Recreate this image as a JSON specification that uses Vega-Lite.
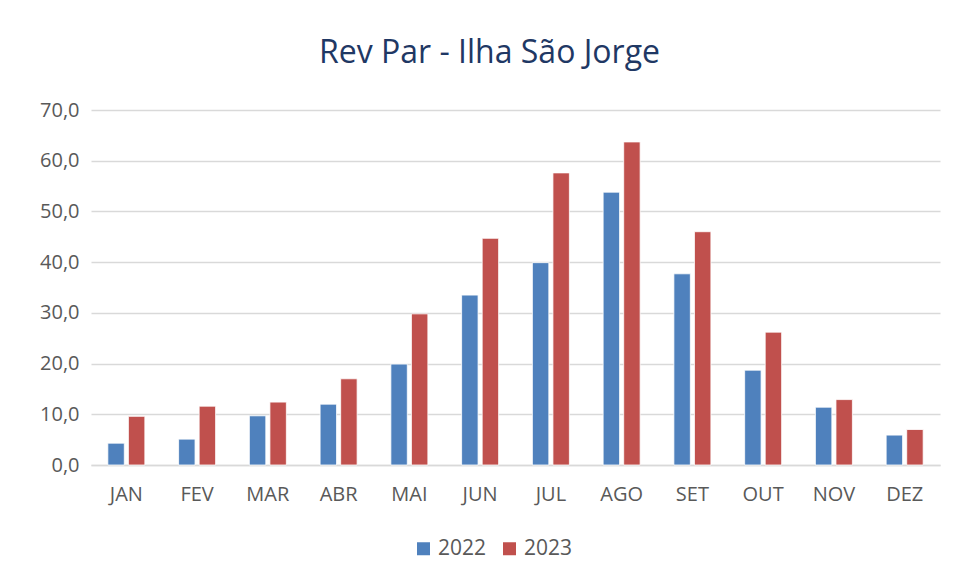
{
  "$schema": "https://vega.github.io/schema/vega-lite/v6.json",
  "width": 849,
  "height": 355,
  "autosize": "none",
  "padding": {"left": 91, "top": 110, "right": 15, "bottom": 116},
  "background": "white",
  "title": {
    "text": "Rev Par - Ilha São Jorge",
    "font": "Open Sans",
    "fontSize": 32,
    "fontWeight": "normal",
    "color": "#1F3864",
    "anchor": "middle",
    "dx": -26,
    "offset": 30
  },
  "data": {
    "values": [
      {"mes": "JAN", "ano": "2022", "valor": 4.3},
      {"mes": "JAN", "ano": "2023", "valor": 9.6},
      {"mes": "FEV", "ano": "2022", "valor": 5.1},
      {"mes": "FEV", "ano": "2023", "valor": 11.6},
      {"mes": "MAR", "ano": "2022", "valor": 9.7},
      {"mes": "MAR", "ano": "2023", "valor": 12.4},
      {"mes": "ABR", "ano": "2022", "valor": 12.0},
      {"mes": "ABR", "ano": "2023", "valor": 17.0},
      {"mes": "MAI", "ano": "2022", "valor": 19.9},
      {"mes": "MAI", "ano": "2023", "valor": 29.8},
      {"mes": "JUN", "ano": "2022", "valor": 33.5},
      {"mes": "JUN", "ano": "2023", "valor": 44.7},
      {"mes": "JUL", "ano": "2022", "valor": 39.9},
      {"mes": "JUL", "ano": "2023", "valor": 57.6},
      {"mes": "AGO", "ano": "2022", "valor": 53.8},
      {"mes": "AGO", "ano": "2023", "valor": 63.7},
      {"mes": "SET", "ano": "2022", "valor": 37.7},
      {"mes": "SET", "ano": "2023", "valor": 46.0},
      {"mes": "OUT", "ano": "2022", "valor": 18.7},
      {"mes": "OUT", "ano": "2023", "valor": 26.2},
      {"mes": "NOV", "ano": "2022", "valor": 11.4},
      {"mes": "NOV", "ano": "2023", "valor": 12.9},
      {"mes": "DEZ", "ano": "2022", "valor": 5.9},
      {"mes": "DEZ", "ano": "2023", "valor": 7.0}
    ]
  },
  "mark": {"type": "bar", "stroke": "white", "strokeWidth": 0.8},
  "encoding": {
    "x": {
      "field": "mes",
      "type": "nominal",
      "sort": ["JAN", "FEV", "MAR", "ABR", "MAI", "JUN", "JUL", "AGO", "SET", "OUT", "NOV", "DEZ"],
      "scale": {"paddingInner": 0.477, "paddingOuter": 0.238},
      "axis": {
        "title": null,
        "labelAngle": 0,
        "labelFont": "Open Sans",
        "labelFontSize": 20,
        "labelColor": "#595959",
        "labelPadding": 19,
        "ticks": false,
        "domainColor": "#D9D9D9",
        "domainWidth": 1.5
      }
    },
    "xOffset": {
      "field": "ano",
      "type": "nominal",
      "scale": {"paddingInner": 0.2}
    },
    "y": {
      "field": "valor",
      "type": "quantitative",
      "scale": {"domain": [0, 70]},
      "axis": {
        "title": null,
        "values": [0, 10, 20, 30, 40, 50, 60, 70],
        "labelExpr": "replace(format(datum.value, '.1f'), '.', ',')",
        "labelFont": "Open Sans",
        "labelFontSize": 20,
        "labelColor": "#595959",
        "labelPadding": 12,
        "ticks": false,
        "domain": false,
        "gridColor": "#D9D9D9",
        "gridWidth": 1.5
      }
    },
    "color": {
      "field": "ano",
      "type": "nominal",
      "scale": {"domain": ["2022", "2023"], "range": ["#4F81BD", "#C0504D"]},
      "legend": {
        "title": null,
        "orient": "none",
        "legendX": 322,
        "legendY": 428,
        "direction": "horizontal",
        "symbolType": "square",
        "symbolSize": 169,
        "symbolStrokeWidth": 0,
        "labelFont": "Open Sans",
        "labelFontSize": 21,
        "labelColor": "#595959",
        "columnPadding": 12,
        "labelOffset": 4
      }
    }
  },
  "config": {"view": {"stroke": null}}
}
